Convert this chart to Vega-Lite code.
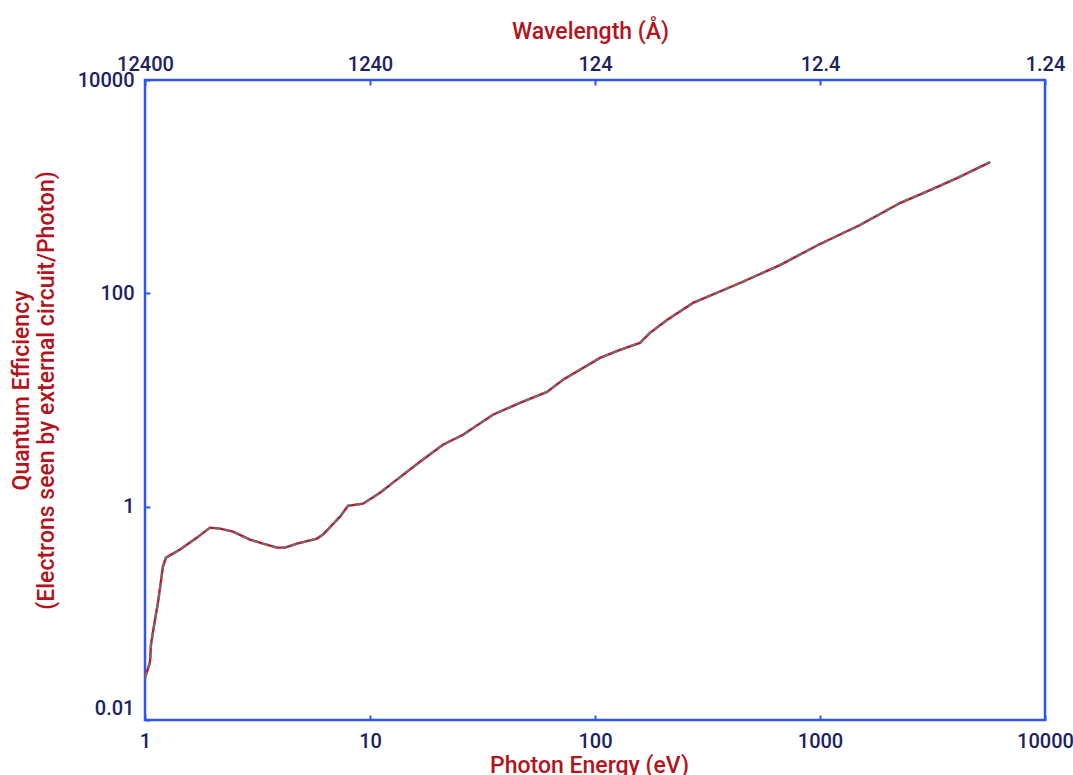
{
  "$schema": "https://vega.github.io/schema/vega-lite/v6.json",
  "width": 900,
  "height": 640,
  "autosize": "none",
  "padding": {"left": 145, "top": 80, "right": 28, "bottom": 55},
  "background": "white",
  "config": {
    "view": {"stroke": "#2f55f5", "strokeWidth": 2.5},
    "axis": {
      "domain": false,
      "grid": false,
      "labelFont": "Roboto",
      "labelFontSize": 20,
      "labelFontWeight": 500,
      "labelColor": "#1c2260",
      "titleFont": "Roboto",
      "titleFontSize": 23,
      "titleFontWeight": 500,
      "titleColor": "#b3131b",
      "tickColor": "#2f55f5",
      "tickSize": -5,
      "tickWidth": 2
    }
  },
  "data": {
    "values": [
      {"energy": 1.0, "qe": 0.025},
      {"energy": 1.052, "qe": 0.0346},
      {"energy": 1.063, "qe": 0.051},
      {"energy": 1.108, "qe": 0.0875},
      {"energy": 1.142, "qe": 0.126},
      {"energy": 1.202, "qe": 0.274},
      {"energy": 1.24, "qe": 0.333},
      {"energy": 1.431, "qe": 0.396},
      {"energy": 1.703, "qe": 0.513},
      {"energy": 1.945, "qe": 0.636},
      {"energy": 2.154, "qe": 0.622},
      {"energy": 2.461, "qe": 0.583},
      {"energy": 2.929, "qe": 0.491},
      {"energy": 3.345, "qe": 0.45},
      {"energy": 3.862, "qe": 0.413},
      {"energy": 4.19, "qe": 0.413},
      {"energy": 4.738, "qe": 0.45},
      {"energy": 5.81, "qe": 0.502},
      {"energy": 6.18, "qe": 0.547},
      {"energy": 7.36, "qe": 0.806},
      {"energy": 7.98, "qe": 1.02},
      {"energy": 9.31, "qe": 1.067},
      {"energy": 11.08, "qe": 1.35},
      {"energy": 12.65, "qe": 1.68},
      {"energy": 16.68, "qe": 2.64},
      {"energy": 21.1, "qe": 3.81},
      {"energy": 25.9, "qe": 4.72},
      {"energy": 35.2, "qe": 7.27},
      {"energy": 46.4, "qe": 9.41},
      {"energy": 61.2, "qe": 11.9},
      {"energy": 72.1, "qe": 15.5},
      {"energy": 105.3, "qe": 24.8},
      {"energy": 129.2, "qe": 29.5},
      {"energy": 158.5, "qe": 34.3},
      {"energy": 175.5, "qe": 42.6},
      {"energy": 208.9, "qe": 56.3},
      {"energy": 272.7, "qe": 81.3},
      {"energy": 441, "qe": 125},
      {"energy": 664, "qe": 184},
      {"energy": 980, "qe": 284},
      {"energy": 1506, "qe": 437},
      {"energy": 2268, "qe": 702},
      {"energy": 3084, "qe": 929},
      {"energy": 4064, "qe": 1203},
      {"energy": 5700, "qe": 1698}
    ]
  },
  "layer": [
    {
      "mark": {"type": "line", "color": "#c8102e", "strokeWidth": 2.4},
      "encoding": {
        "x": {
          "field": "energy",
          "type": "quantitative",
          "scale": {"type": "log", "domain": [1, 10000], "nice": false},
          "axis": {
            "orient": "bottom",
            "values": [1, 10, 100, 1000, 10000],
            "format": "d",
            "labelPadding": 16,
            "labelFlush": false,
            "title": "Photon Energy (eV)",
            "titleX": 444,
            "titleY": 45,
            "titleBaseline": "middle",
            "titleAnchor": null
          }
        },
        "y": {
          "field": "qe",
          "type": "quantitative",
          "scale": {"type": "log", "domain": [0.01, 10000], "nice": false},
          "axis": {
            "values": [0.01, 1, 100, 10000],
            "format": "~g",
            "labelPadding": 16,
            "labelFlush": false,
            "labelOffset": {"condition": {"test": "datum.value < 0.02", "value": -12}, "value": 0},
            "title": ["Quantum Efficiency", "(Electrons seen by external circuit/Photon)"],
            "titleAngle": -90,
            "titleX": -135,
            "titleY": 310,
            "titleAlign": "center",
            "titleBaseline": "top",
            "titleLineHeight": 25
          }
        }
      }
    },
    {
      "mark": {"type": "line", "color": "#6e6e6e", "strokeWidth": 2.4, "strokeDash": [6, 4]},
      "encoding": {
        "x": {
          "field": "energy",
          "type": "quantitative",
          "scale": {"type": "log", "domain": [1, 10000], "nice": false},
          "axis": {
            "orient": "top",
            "values": [1, 10, 100, 1000, 10000],
            "labelExpr": "'' + (12400 / datum.value)",
            "labelPadding": 11,
            "labelFlush": false,
            "title": "Wavelength (Å)",
            "titleX": 445,
            "titleY": -49,
            "titleBaseline": "middle",
            "titleAnchor": null
          }
        },
        "y": {
          "field": "qe",
          "type": "quantitative",
          "scale": {"type": "log", "domain": [0.01, 10000], "nice": false},
          "axis": null
        }
      }
    }
  ],
  "resolve": {"axis": {"x": "independent", "y": "independent"}}
}
